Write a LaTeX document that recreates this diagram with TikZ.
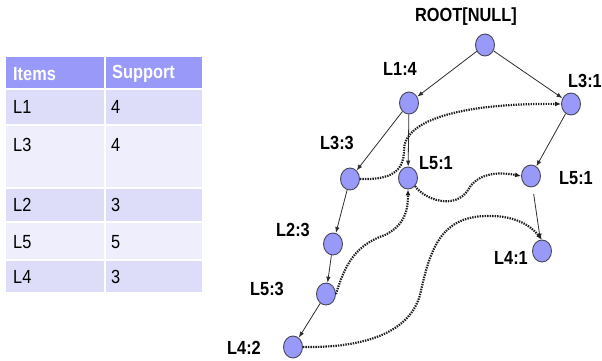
\documentclass[tikz,border=0pt]{standalone}
\usepackage{fontspec}
\setmainfont{Liberation Sans}
\newfontfamily\narfont[FakeStretch=0.86]{Liberation Sans}
\usetikzlibrary{arrows.meta,shapes.geometric}
\definecolor{headc}{RGB}{153,153,250}
\definecolor{rowa}{RGB}{221,221,250}
\definecolor{rowb}{RGB}{238,238,252}
\definecolor{nodefill}{RGB}{153,153,250}
\definecolor{nodeline}{RGB}{70,70,90}
\definecolor{edgec}{RGB}{45,45,45}
\definecolor{linkc}{RGB}{30,30,30}
\tikzset{
  tnode/.style={ellipse, draw=nodeline, line width=0.9pt, fill=nodefill, minimum width=19pt, minimum height=22pt, inner sep=0pt},
  lbl/.style={font=\narfont\fontsize{19}{20}\selectfont\bfseries, inner sep=0pt},
  cell/.style={draw=white, line width=1.5pt},
  htext/.style={font=\narfont\fontsize{19}{20}\selectfont\bfseries, text=white, anchor=west, inner sep=0pt},
  btext/.style={font=\narfont\fontsize{19}{20}\selectfont, text=black, anchor=west, inner sep=0pt},
  tree/.style={draw=edgec, line width=0.8pt, -{Latex[length=6pt,width=4.5pt]}},
  link/.style={draw=linkc, line width=2.2pt, dash pattern=on 1.4pt off 1.1pt, -{Latex[length=6pt,width=5pt]}}
}
\begin{document}
\begin{tikzpicture}[x=1pt,y=-1pt]
\useasboundingbox (0,0) rectangle (602,360);
% table
\fill[headc] (6,57) rectangle (202,89);
\fill[rowa] (6,89) rectangle (202,125);
\fill[rowb] (6,125) rectangle (202,188);
\fill[rowa] (6,188) rectangle (202,222);
\fill[rowb] (6,222) rectangle (202,260);
\fill[rowa] (6,260) rectangle (202,292);
\draw[cell] (6,89) -- (202,89);
\draw[cell] (6,125) -- (202,125);
\draw[cell] (6,188) -- (202,188);
\draw[cell] (6,222) -- (202,222);
\draw[cell] (6,260) -- (202,260);
\draw[cell] (105,57) -- (105,292);
\node[htext] (h1) at (13,74) {Items};
\node[htext] (h2) at (112,74) {Support};
\node[btext] (r1a) at (13,107) {L1};
\node[btext] (r1b) at (111,107) {4};
\node[btext] (r2a) at (13,145) {L3};
\node[btext] (r2b) at (111,145) {4};
\node[btext] (r3a) at (13,205) {L2};
\node[btext] (r3b) at (111,205) {3};
\node[btext] (r4a) at (13,242) {L5};
\node[btext] (r4b) at (111,242) {5};
\node[btext] (r5a) at (13,277) {L4};
\node[btext] (r5b) at (111,277) {3};
% tree nodes
\node[tnode] (root) at (485,45) {};
\node[tnode] (l14) at (409,103) {};
\node[tnode] (l31) at (571,104) {};
\node[tnode] (l33) at (350,179) {};
\node[tnode] (l51a) at (408,178) {};
\node[tnode] (l51b) at (531,176) {};
\node[tnode] (l23) at (333,244) {};
\node[tnode] (l53) at (326,294) {};
\node[tnode] (l42) at (293,347) {};
\node[tnode] (l41) at (542,251) {};
% labels
\node[lbl] (t0) at (466,17) {ROOT[NULL]};
\node[lbl] (t1) at (400,69) {L1:4};
\node[lbl] (t2) at (585,81) {L3:1};
\node[lbl] (t3) at (337,143) {L3:3};
\node[lbl] (t4) at (436,163) {L5:1};
\node[lbl] (t5) at (576,178) {L5:1};
\node[lbl] (t6) at (293,230) {L2:3};
\node[lbl] (t7) at (267,289) {L5:3};
\node[lbl] (t8) at (244,348) {L4:2};
\node[lbl] (t9) at (511,258) {L4:1};
% tree edges
\draw[tree] (root) -- (l14);
\draw[tree] (root) -- (l31);
\draw[tree] (l14) -- (l33);
\draw[tree] (l14) -- (l51a);
\draw[tree] (l31) -- (l51b);
\draw[tree] (l33) -- (l23);
\draw[tree] (l23) -- (l53);
\draw[tree] (l53) -- (l42);
\draw[tree, shorten <=7pt] (l51b) -- (l41);
% node links
\draw[link] (l33.east) .. controls (390,180) and (404,172) .. (404,150)
  .. controls (404,115) and (480,103) .. (l31.west);
\draw[link] (l51a.south east) .. controls (425,200) and (455,210) .. (468,190)
  .. controls (478,172) and (500,172) .. (l51b.west);
\draw[link] (l53.east) .. controls (345,265) and (355,245) .. (385,235)
  .. controls (405,225) and (408,210) .. (l51a.south);
\draw[link] (l42.east) .. controls (370,348) and (410,330) .. (420,295)
  .. controls (430,250) and (440,215) .. (490,216)
  .. controls (515,216) and (530,225) .. (l41.north);
\end{tikzpicture}
\end{document}
